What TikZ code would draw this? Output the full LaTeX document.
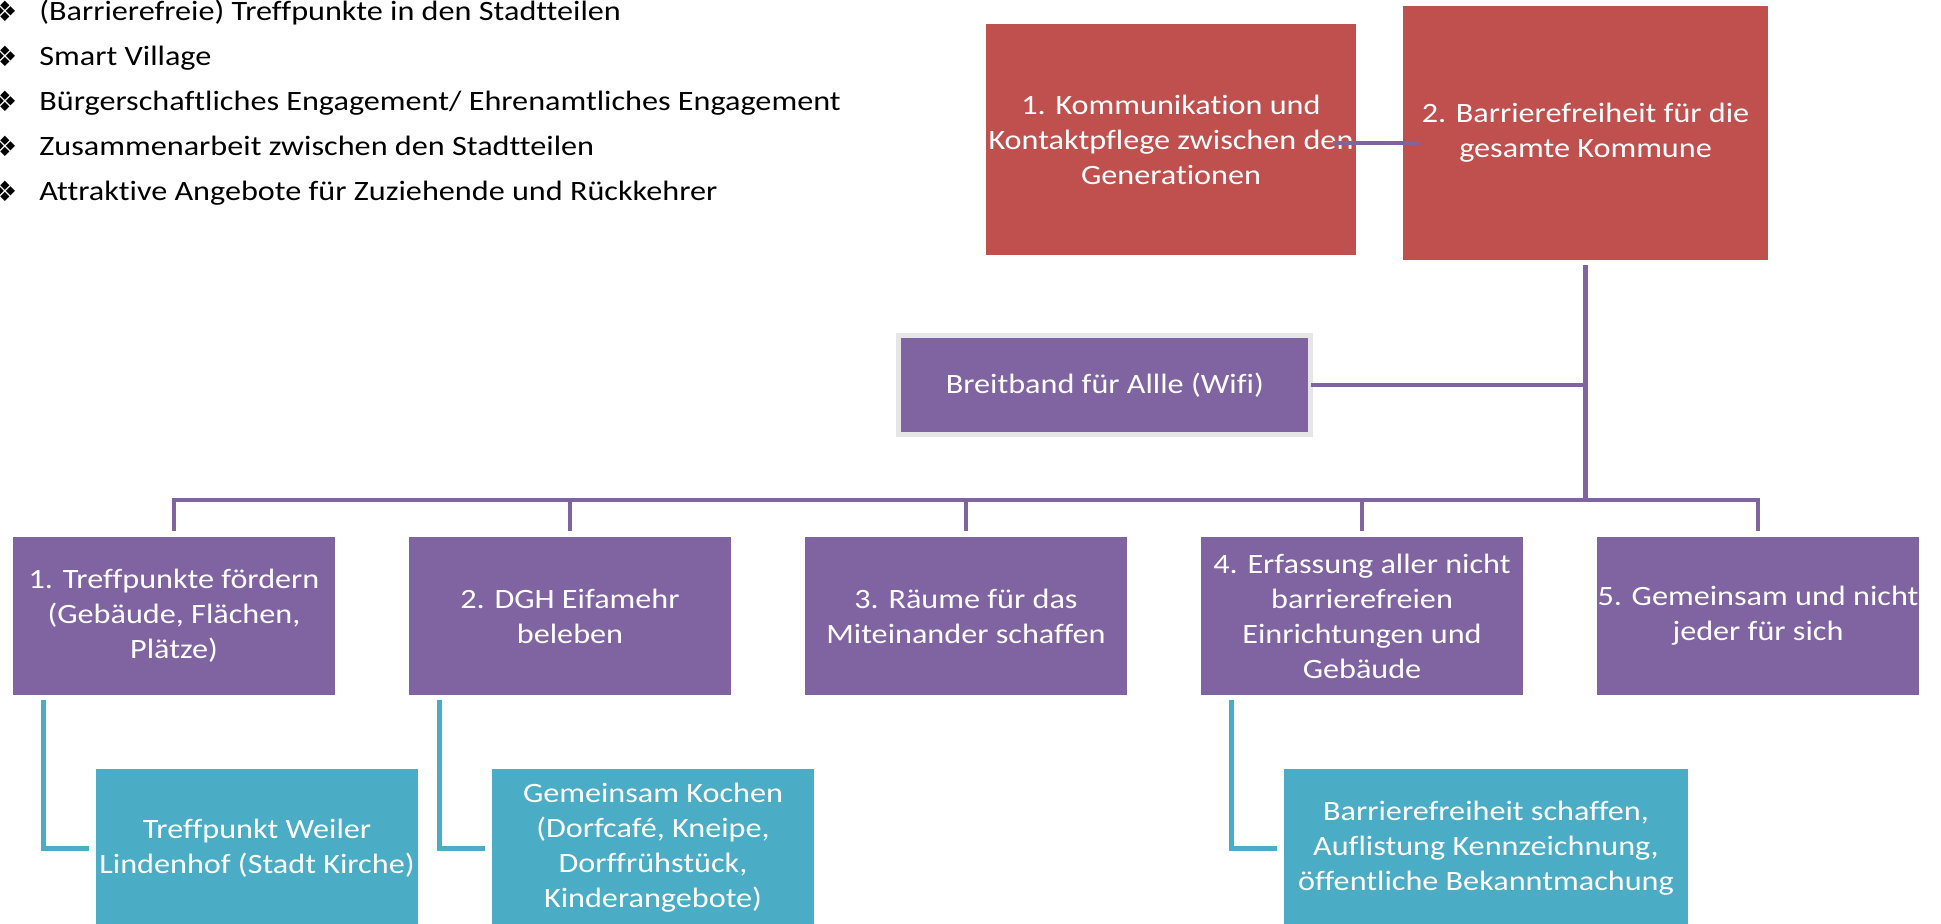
\documentclass[tikz,border=0pt]{standalone}
\usepackage{fontspec}
\setmainfont{Carlito}[FakeStretch=1.15, Ligatures=NoCommon]
\newfontfamily\symfont{DejaVu Sans}
\usetikzlibrary{positioning}
\definecolor{boxred}{HTML}{C0504D}
\definecolor{boxpurple}{HTML}{8064A2}
\definecolor{boxteal}{HTML}{4BACC6}
\definecolor{framegray}{HTML}{E6E6E6}
\def \boxwidth {161pt}
\def \boxheight {79pt}
\tikzset{
  chartbox/.style = {inner sep=0pt, outer sep=0pt, align=center, text=white, font=\fontsize{14pt}{17.5pt}\selectfont},
  redbox/.style = {chartbox, fill=boxred},
  purplebox/.style = {chartbox, fill=boxpurple, minimum width=\boxwidth, minimum height=\boxheight},
  tealbox/.style = {chartbox, fill=boxteal, minimum width=\boxwidth, minimum height=\boxheight},
  purpleline/.style = {draw=boxpurple, line width=2.25pt, line cap=rect},
  tealline/.style = {draw=boxteal, line width=2.5pt},
  listitem/.style = {anchor=base west, inner sep=0pt, font=\fontsize{14pt}{17pt}\selectfont},
  listbullet/.style = {anchor=base, inner sep=0pt, font=\symfont\fontsize{14pt}{14pt}\selectfont}
}

\begin{document}
\begin{tikzpicture}
\useasboundingbox (0,0) rectangle (970.5pt,-461.5pt);

\foreach \txt [count=\i] in {{(Barrierefreie) Treffpunkte in den Stadtteilen}, {Smart Village}, {Bürgerschaftliches Engagement/ Ehrenamtliches Engagement}, {Zusammenarbeit zwischen den Stadtteilen}, {Attraktive Angebote für Zuziehende und Rückkehrer}}
{
  \node (bullet\i) [listbullet] at (2.5pt, {-10.5pt-22.5pt*(\i-1)}) {❖};
  \node (item\i) [listitem] at (19.5pt, {-10pt-22.5pt*(\i-1)}) {\txt};
}

\node (bar) [redbox, minimum width = 182.5pt, minimum height = 127pt] at (792.75pt, -66.5pt) {2. Barrierefreiheit für die\\gesamte Kommune};

\node (kom) [redbox, minimum width = 185pt, minimum height = 115.5pt, left = 23.5pt of bar, yshift = -3.25pt] {1. Kommunikation und\\Kontaktpflege zwischen den\\Generationen};

\draw[purpleline] ([xshift = -10.5pt, yshift = -1.75pt]kom.east) -- ([xshift = 7pt, yshift = -1.75pt]kom.east -| bar.west);

\node (breit) [purplebox, draw = framegray, line width = 2.5pt, outer sep = 1.25pt, minimum width = 206pt, minimum height = 49.5pt] at (552.4pt, -192.5pt) {Breitband für Allle (Wifi)};

\node (p1) [purplebox] at (87pt, -308pt) {1. Treffpunkte fördern\\(Gebäude, Flächen,\\Plätze)};
\node (p2) [purplebox, right = 37pt of p1] {2. DGH Eifamehr\\beleben};
\node (p3) [purplebox, right = 37pt of p2] {3. Räume für das\\Miteinander schaffen};
\node (p4) [purplebox, right = 37pt of p3] {4. Erfassung aller nicht\\barrierefreien\\Einrichtungen und\\Gebäude};
\node (p5) [purplebox, right = 37pt of p4] {5. Gemeinsam und nicht\\jeder für sich};

\node (t1) [tealbox, below right = 37pt and -119.5pt of p1] {Treffpunkt Weiler\\Lindenhof (Stadt Kirche)};
\node (t2) [tealbox, below right = 37pt and -119.5pt of p2] {Gemeinsam Kochen\\(Dorfcafé, Kneipe,\\Dorffrühstück,\\Kinderangebote)};
\node (t3) [tealbox, minimum width = 202pt, below right = 37pt and -119.5pt of p4] {Barrierefreiheit schaffen,\\Auflistung Kennzeichnung,\\öffentliche Bekanntmachung};

\coordinate (bus) at ([yshift = 18.5pt]p1.north);

\draw[purpleline] ([yshift = -3.5pt]bar.south) -- (bar.south |- bus);
\draw[purpleline] (breit.east) -- (breit.east -| bar.south);
\draw[purpleline] (p1.north |- bus) -- (p5.north |- bus);
\foreach \n in {p1, p2, p3, p4, p5}
  \draw[purpleline, shorten >= 4pt] (\n.north |- bus) -- (\n.north);

\foreach \n/\m in {p1/t1, p2/t2, p4/t3}
  \draw[tealline] ([xshift = 15pt, yshift = -2.5pt]\n.south west) |- ([xshift = -3.5pt]\m.west);

\end{tikzpicture}
\end{document}
